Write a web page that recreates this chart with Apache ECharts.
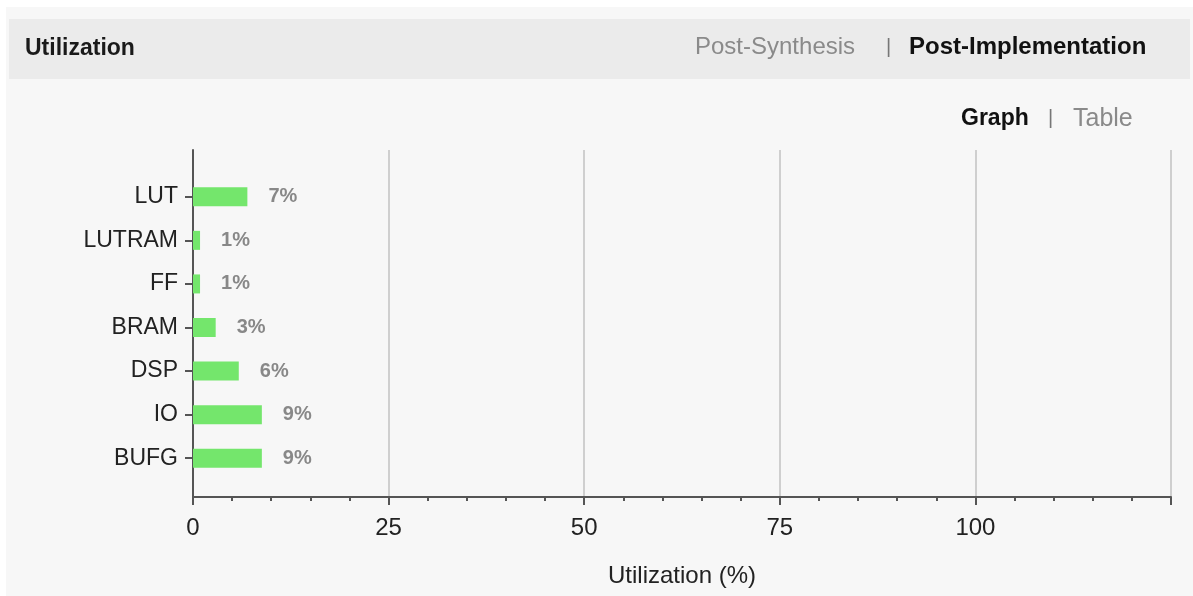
<!DOCTYPE html>
<html>
<head>
<meta charset="utf-8">
<script src="https://cdn.jsdelivr.net/npm/echarts@6/dist/echarts.min.js"></script>
<style>
  html, body { margin: 0; padding: 0; background: #fff; }
  #chart { width: 1193px; height: 596px; }
</style>
</head>
<body>
<div id="chart"></div>
<script>
// resource utilization, post-implementation
var categories = ['LUT', 'LUTRAM', 'FF', 'BRAM', 'DSP', 'IO', 'BUFG'];
var utilization = [6.95, 0.9, 0.9, 2.9, 5.85, 8.8, 8.8];
var xTicks = [0, 25, 50, 75, 100, 125];

var FONT = 'Liberation Sans, Arial, sans-serif';
var chart = echarts.init(document.getElementById('chart'));

chart.setOption({
  backgroundColor: '#ffffff',
  animation: false,
  graphic: [
    { type: 'rect', shape: { x: 6, y: 7, width: 1187, height: 589 }, style: { fill: '#f7f7f7' }, z: -10 },
    { type: 'rect', shape: { x: 9, y: 19, width: 1181, height: 60 }, style: { fill: '#ebebeb' }, z: -9 },
    { type: 'text', x: 25, y: 49, style: { text: 'Utilization', font: 'bold 23px ' + FONT, fill: '#1a1a1a', verticalAlign: 'middle' } },
    { type: 'text', x: 695, y: 47, style: { text: 'Post-Synthesis', font: '24px ' + FONT, fill: '#8a8a8a', verticalAlign: 'middle' } },
    { type: 'text', x: 886, y: 47, style: { text: '|', font: '20px ' + FONT, fill: '#777', verticalAlign: 'middle' } },
    { type: 'text', x: 909, y: 47, style: { text: 'Post-Implementation', font: 'bold 24px ' + FONT, fill: '#111', verticalAlign: 'middle' } },
    { type: 'text', x: 961, y: 119, style: { text: 'Graph', font: 'bold 23px ' + FONT, fill: '#111', verticalAlign: 'middle' } },
    { type: 'text', x: 1048, y: 118, style: { text: '|', font: '20px ' + FONT, fill: '#777', verticalAlign: 'middle' } },
    { type: 'text', x: 1073, y: 119, style: { text: 'Table', font: '25px ' + FONT, fill: '#8a8a8a', verticalAlign: 'middle' } }
  ],
  grid: [
    { left: 193, right: 22, top: 150, bottom: 99 },
    { left: 193, right: 22, top: 175, bottom: 116 }
  ],
  xAxis: [
    {
      gridIndex: 0,
      type: 'value',
      min: xTicks[0],
      max: xTicks[xTicks.length - 1],
      interval: 25,
      name: 'Utilization (%)',
      nameLocation: 'middle',
      nameGap: 67,
      nameTextStyle: { fontFamily: FONT, fontSize: 24, color: '#222', verticalAlign: 'top' },
      axisLine: { show: true, lineStyle: { color: '#555', width: 2 } },
      axisTick: { show: true, length: 8, lineStyle: { color: '#555', width: 2 } },
      minorTick: { show: true, splitNumber: 5, length: 4, lineStyle: { color: '#555', width: 2 } },
      splitLine: { show: true, lineStyle: { color: '#cfcfcf', width: 2 } },
      axisLabel: {
        showMaxLabel: false,
        margin: 19,
        fontFamily: FONT,
        fontSize: 24,
        color: '#222',
        formatter: function (v) { return xTicks.indexOf(v) >= 0 ? String(v) : ''; }
      }
    },
    { gridIndex: 1, type: 'value', min: xTicks[0], max: xTicks[xTicks.length - 1], show: false }
  ],
  yAxis: [
    {
      gridIndex: 0,
      type: 'value',
      axisLine: { show: true, lineStyle: { color: '#555', width: 2 } },
      axisTick: { show: false },
      axisLabel: { show: false },
      splitLine: { show: false }
    },
    {
      gridIndex: 1,
      type: 'category',
      inverse: true,
      data: categories,
      axisLine: { show: false },
      axisTick: { show: true, alignWithLabel: true, length: 8, lineStyle: { color: '#555', width: 2 } },
      axisLabel: { margin: 15, fontFamily: FONT, fontSize: 23, color: '#222' }
    }
  ],
  series: [
    {
      type: 'bar',
      xAxisIndex: 1,
      yAxisIndex: 1,
      data: utilization,
      barWidth: 19,
      itemStyle: { color: '#74e66c' },
      label: {
        show: true,
        position: 'right',
        distance: 21,
        fontFamily: FONT,
        fontWeight: 'bold',
        fontSize: 20,
        color: '#888888',
        formatter: function (p) { return Math.round(p.value) + '%'; }
      }
    }
  ]
});
</script>
</body>
</html>
